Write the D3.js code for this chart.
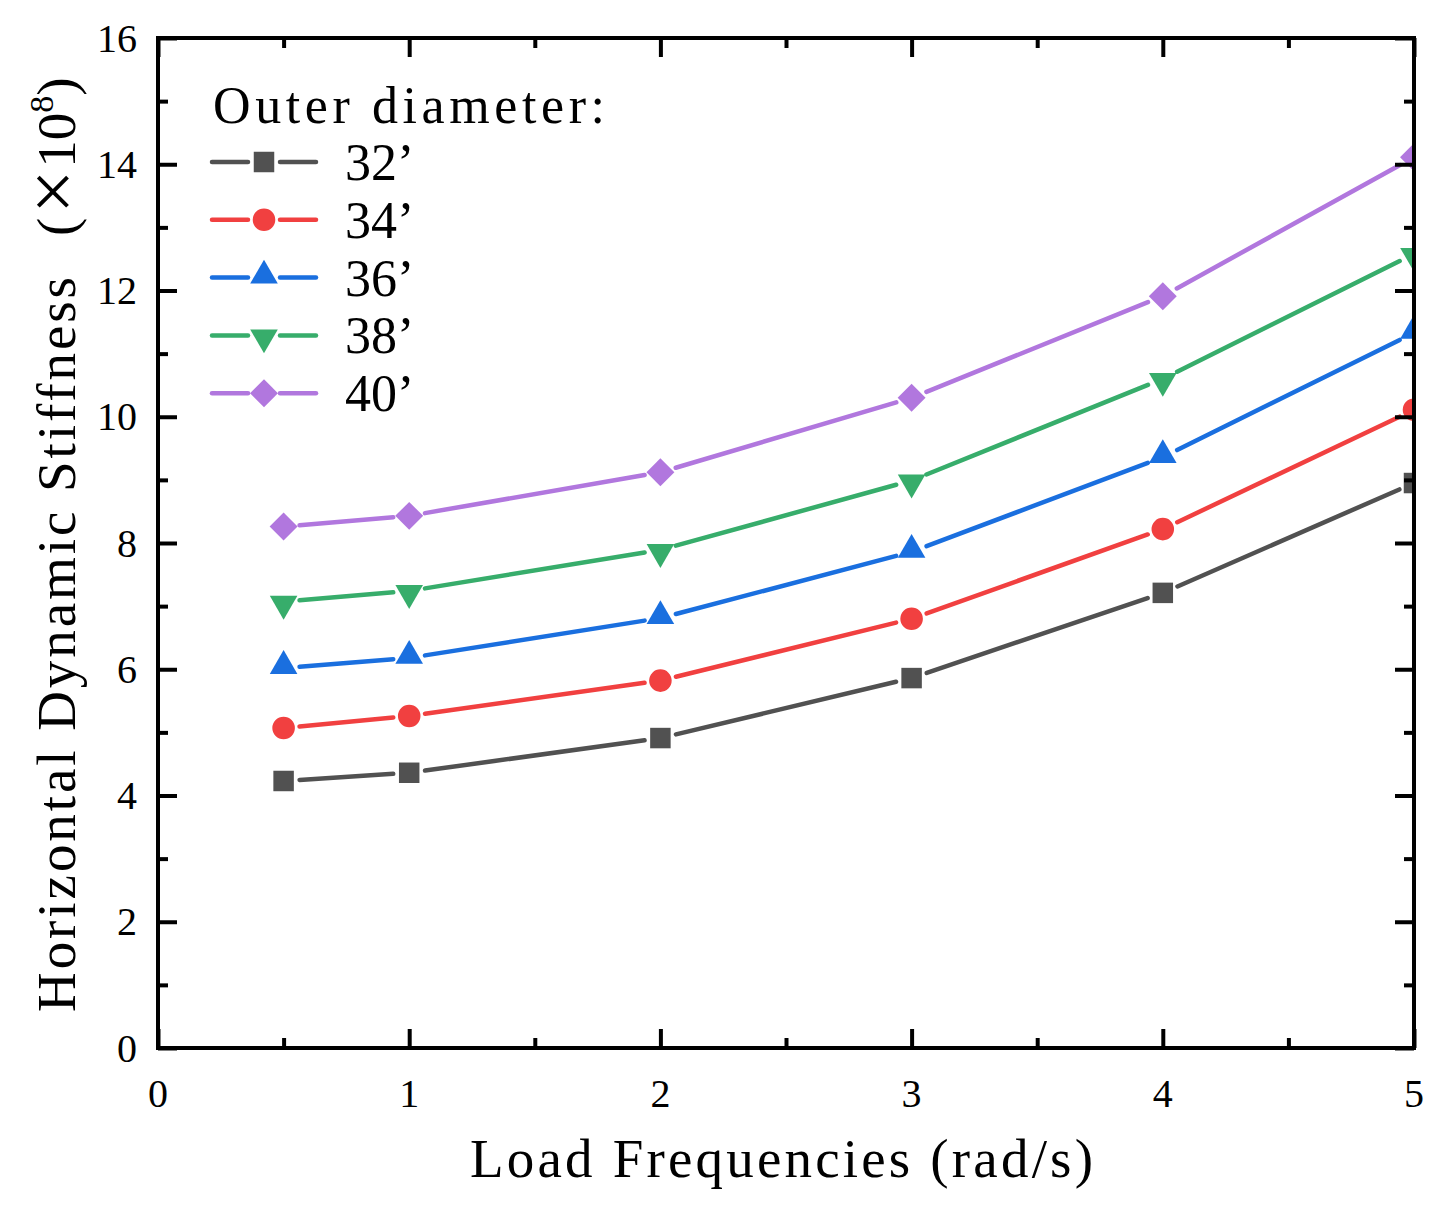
<!DOCTYPE html>
<html>
<head>
<meta charset="utf-8">
<script src="https://cdn.jsdelivr.net/npm/d3@7"></script>
<style>
  html, body { margin: 0; padding: 0; background: #fff; }
  text { font-family: "Liberation Serif", "DejaVu Serif", serif; fill: #000; }
</style>
</head>
<body>
<div id="chart"></div>
<script>
var freqs = [0.5, 1, 2, 3, 4, 5];
var seriesNames = ['32’', '34’', '36’', '38’', '40’'];
var d32 = [4.23, 4.36, 4.91, 5.86, 7.21, 8.95];
var d34 = [5.07, 5.26, 5.82, 6.80, 8.22, 10.11];
var d36 = [6.02, 6.18, 6.81, 7.86, 9.36, 11.33];
var d38 = [7.07, 7.24, 7.89, 8.99, 10.60, 12.58];
var d40 = [8.26, 8.43, 9.12, 10.30, 11.91, 14.11];
var xTicks = [0, 1, 2, 3, 4, 5];
var yTicks = [0, 2, 4, 6, 8, 10, 12, 14, 16];

var W = 1446, H = 1206,
    margin = {left: 158, top: 38, right: 32, bottom: 158},
    width = W - margin.left - margin.right,
    height = H - margin.top - margin.bottom;

var colors = ['#515151', '#F14040', '#1A6FDF', '#37AD6B', '#B177DE'],
    shapes = [d3.symbolSquare, d3.symbolCircle, d3.symbolTriangle, d3.symbolTriangle, d3.symbolSquare],
    sizes = [420, 400, 330, 330, 390],
    rotations = [0, 0, 0, 180, 45],
    allData = [d32, d34, d36, d38, d40];

var x = d3.scaleLinear().domain([0, 5]).range([0, width]),
    y = d3.scaleLinear().domain([0, 16]).range([height, 0]);

var svg = d3.select('#chart').append('svg')
    .attr('width', W)
    .attr('height', H);

svg.append('defs').append('clipPath').attr('id', 'plotclip')
    .append('rect').attr('x', 0).attr('y', 0).attr('width', width).attr('height', height);

var chart = svg.append('g')
    .attr('transform', 'translate(' + margin.left + ',' + margin.top + ')');

// series: segments with gaps around markers, then markers
var plot = chart.append('g').attr('clip-path', 'url(#plotclip)');
var gap = 16;

allData.forEach(function(vals, si) {
    var pts = freqs.map(function(f, i) { return [x(f), y(vals[i])]; });
    var segs = d3.pairs(pts).map(function(p) {
        var dx = p[1][0] - p[0][0], dy = p[1][1] - p[0][1],
            len = Math.sqrt(dx*dx + dy*dy), ux = dx/len, uy = dy/len;
        return [[p[0][0] + ux*gap, p[0][1] + uy*gap], [p[1][0] - ux*gap, p[1][1] - uy*gap]];
    });
    plot.selectAll('.seg' + si)
        .data(segs)
        .enter()
        .append('line')
        .attr('x1', function(d) { return d[0][0]; })
        .attr('y1', function(d) { return d[0][1]; })
        .attr('x2', function(d) { return d[1][0]; })
        .attr('y2', function(d) { return d[1][1]; })
        .attr('stroke', colors[si])
        .attr('stroke-width', 4.5)
        .attr('stroke-linecap', 'round');
    plot.selectAll('.pt' + si)
        .data(pts)
        .enter()
        .append('path')
        .attr('d', d3.symbol().type(shapes[si]).size(sizes[si]))
        .attr('transform', function(d) {
            return 'translate(' + d[0] + ',' + (d[1] + (si === 2 ? -2 : si === 3 ? 2 : 0)) + ') rotate(' + rotations[si] + ')';
        })
        .attr('fill', colors[si]);
});

// axes on all four sides, ticks pointing inward
var minorX = d3.range(0.5, 5, 1), minorY = d3.range(1, 16, 2);
function drawAxis(axis, transform) {
    var g = chart.append('g').attr('transform', transform).call(axis);
    g.select('.domain').remove();
    g.selectAll('line').attr('stroke', '#000').attr('stroke-width', 4);
    g.selectAll('text').remove();
    return g;
}
drawAxis(d3.axisBottom(x).tickValues(xTicks).tickSize(-19), 'translate(0,' + height + ')');
drawAxis(d3.axisBottom(x).tickValues(minorX).tickSize(-10), 'translate(0,' + height + ')');
drawAxis(d3.axisTop(x).tickValues(xTicks).tickSize(-19), 'translate(0,0)');
drawAxis(d3.axisTop(x).tickValues(minorX).tickSize(-10), 'translate(0,0)');
drawAxis(d3.axisLeft(y).tickValues(yTicks).tickSize(-19), 'translate(0,0)');
drawAxis(d3.axisLeft(y).tickValues(minorY).tickSize(-10), 'translate(0,0)');
drawAxis(d3.axisRight(y).tickValues(yTicks).tickSize(-19), 'translate(' + width + ',0)');
drawAxis(d3.axisRight(y).tickValues(minorY).tickSize(-10), 'translate(' + width + ',0)');

chart.append('rect')
    .attr('x', 0).attr('y', 0).attr('width', width).attr('height', height)
    .attr('fill', 'none').attr('stroke', '#000').attr('stroke-width', 4)
    .attr('stroke-linejoin', 'miter');

// tick labels
chart.selectAll('.xtl')
    .data(xTicks)
    .enter()
    .append('text')
    .attr('x', function(d) { return x(d); })
    .attr('y', height + 59)
    .attr('text-anchor', 'middle')
    .style('font-size', '40px')
    .text(function(d) { return d; });

chart.selectAll('.ytl')
    .data(yTicks)
    .enter()
    .append('text')
    .attr('x', -21)
    .attr('y', function(d) { return y(d); })
    .attr('dy', '0.34em')
    .attr('text-anchor', 'end')
    .style('font-size', '40px')
    .text(function(d) { return d; });

// axis titles
svg.append('text')
    .attr('x', 470)
    .attr('y', 1177)
    .attr('textLength', 623)
    .attr('lengthAdjust', 'spacing')
    .style('font-size', '55px')
    .text('Load Frequencies (rad/s)');

var ylab = svg.append('g').attr('transform', 'translate(75,0) rotate(-90)');
ylab.append('text')
    .attr('x', -1012)
    .attr('y', 0)
    .attr('textLength', 735)
    .attr('lengthAdjust', 'spacing')
    .style('font-size', '55px')
    .text('Horizontal Dynamic Stiffness');
var yl2 = ylab.append('text')
    .attr('x', -236)
    .attr('y', 0)
    .style('font-size', '55px');
yl2.append('tspan').text('(');
yl2.append('tspan').attr('dx', 4).attr('dy', 4).style('font-size', '78px').text('×');
yl2.append('tspan').attr('dx', 2).attr('dy', -4).text('10');
yl2.append('tspan').attr('dy', -22).style('font-size', '34px').text('8');
yl2.append('tspan').attr('dy', 22).text(')');

// legend
var legend = svg.append('g');
legend.append('text')
    .attr('x', 213)
    .attr('y', 123)
    .attr('textLength', 392)
    .attr('lengthAdjust', 'spacing')
    .style('font-size', '52px')
    .text('Outer diameter:');

var items = legend.selectAll('.item')
    .data(seriesNames)
    .enter()
    .append('g')
    .attr('transform', function(d, i) { return 'translate(0,' + (162 + i*57.8) + ')'; });

items.selectAll('line')
    .data(function(d, i) { return [[212, 248, i], [280, 316, i]]; })
    .enter()
    .append('line')
    .attr('x1', function(d) { return d[0]; })
    .attr('x2', function(d) { return d[1]; })
    .attr('y1', 0).attr('y2', 0)
    .attr('stroke', function(d) { return colors[d[2]]; })
    .attr('stroke-width', 4.5)
    .attr('stroke-linecap', 'round');
items.append('path')
    .attr('d', function(d, i) { return d3.symbol().type(shapes[i]).size(sizes[i])(); })
    .attr('transform', function(d, i) {
        return 'translate(264,' + (i === 2 ? -2 : i === 3 ? 2 : 0) + ') rotate(' + rotations[i] + ')';
    })
    .attr('fill', function(d, i) { return colors[i]; });
items.append('text')
    .attr('x', 345)
    .attr('y', 18)
    .style('font-size', '52px')
    .text(function(d) { return d; });
</script>
</body>
</html>
